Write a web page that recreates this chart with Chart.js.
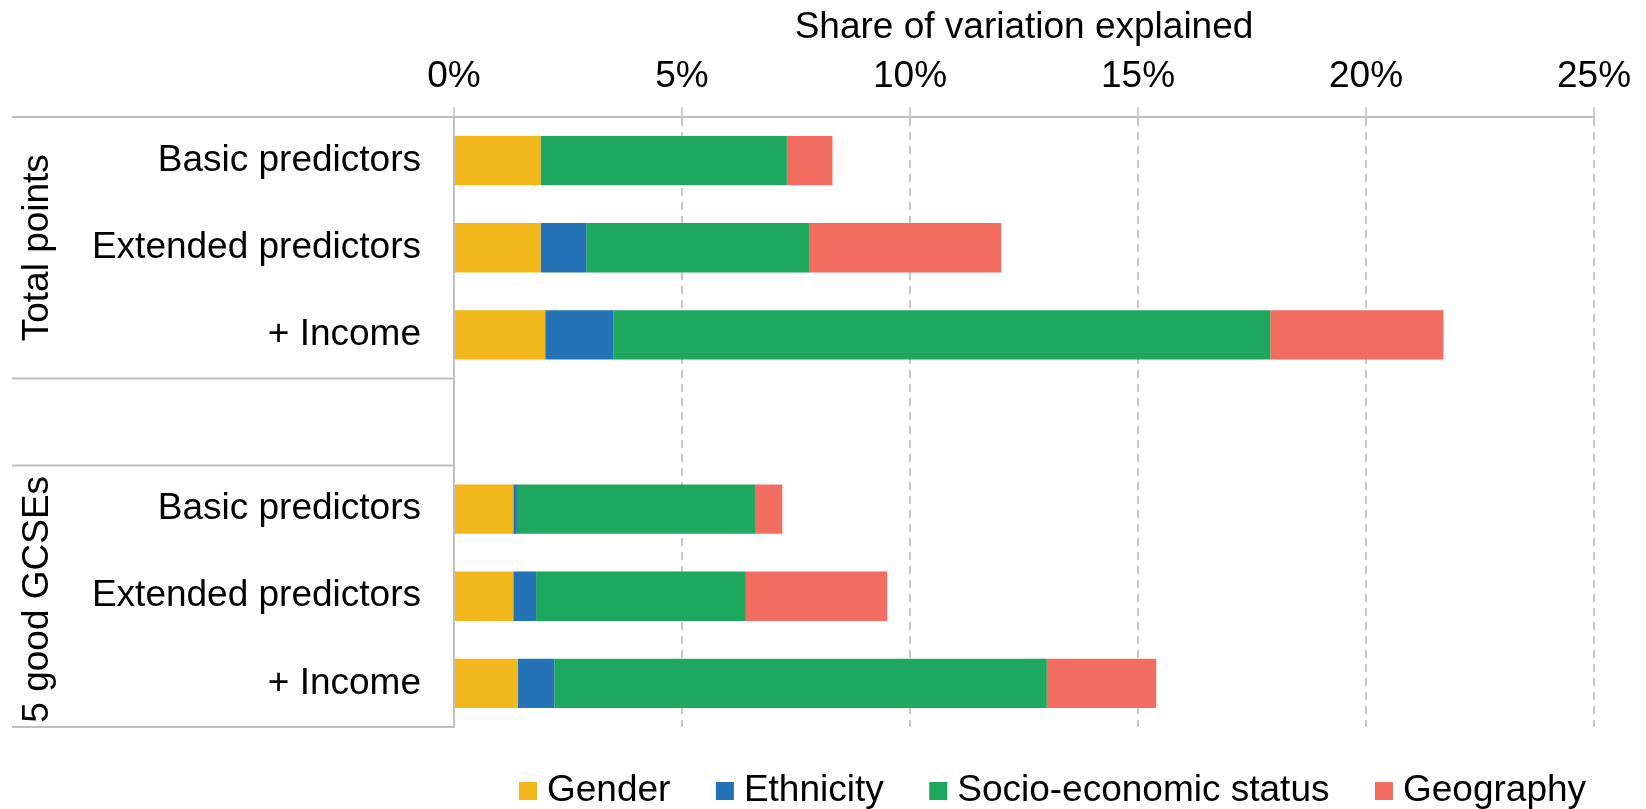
<!DOCTYPE html>
<html>
<head>
<meta charset="utf-8">
<title>Share of variation explained</title>
<script src="https://cdn.jsdelivr.net/npm/chart.js@4/dist/chart.umd.min.js"></script>
<style>
  html, body { margin: 0; padding: 0; background: #fff; }
  #wrap { width: 1646px; height: 809px; position: relative; }
</style>
</head>
<body>
<div id="wrap"><canvas id="chart"></canvas></div>
<script>
// row labels (blank row separates the two outcome groups)
var categories = [
  "Basic predictors", "Extended predictors", "+ Income", "",
  "Basic predictors", "Extended predictors", "+ Income"
];
var groups = ["Total points", "5 good GCSEs"];
var groupRows = [[0, 2], [4, 6]];

// share of variation explained, in %
var gender    = [1.9, 1.9, 2.0, null, 1.3, 1.3, 1.4];
var ethnicity = [0.0, 1.0, 1.5, null, 0.08, 0.5, 0.8];
var ses       = [5.4, 4.9, 14.4, null, 5.22, 4.6, 10.8];
var geography = [1.0, 4.2, 3.8, null, 0.6, 3.1, 2.4];

var seriesNames = ["Gender", "Ethnicity", "Socio-economic status", "Geography"];
var tickValues = [0, 5, 10, 15, 20, 25];

var colors = ["#F2B71B", "#2473B6", "#1EA85F", "#F26D60"];
var FONT = "'Liberation Sans', Arial, sans-serif";
var FSIZE = 37;
var LINE = "#BFBFBF";

// group labels, left separator lines and the legend
var extras = {
  id: "extras",
  afterDraw: function (chart) {
    var ctx = chart.ctx;
    var area = chart.chartArea;
    var y = chart.scales.y;
    var half = (y.getPixelForValue(1) - y.getPixelForValue(0)) / 2;

    ctx.save();
    ctx.strokeStyle = LINE;
    ctx.lineWidth = 2;
    var ys = [area.top, y.getPixelForValue(2) + half, y.getPixelForValue(4) - half, area.bottom];
    ys.forEach(function (py) {
      ctx.beginPath();
      ctx.moveTo(12, py);
      ctx.lineTo(area.left, py);
      ctx.stroke();
    });

    ctx.fillStyle = "#000";
    ctx.font = FSIZE + "px " + FONT;
    ctx.textAlign = "center";
    ctx.textBaseline = "middle";
    groups.forEach(function (g, i) {
      var a = y.getPixelForValue(groupRows[i][0]);
      var b = y.getPixelForValue(groupRows[i][1]);
      ctx.save();
      ctx.translate(38, (a + b) / 2 + (i == 1 ? 3 : 0));
      ctx.rotate(-Math.PI / 2);
      ctx.fillText(g, 0, 0);
      ctx.restore();
    });

    // legend row
    var x = 519;
    var ly = 791;
    var box = 18;
    ctx.textAlign = "left";
    chart.data.datasets.forEach(function (ds) {
      ctx.fillStyle = ds.backgroundColor;
      ctx.fillRect(x, ly - box / 2, box, box);
      x += box + 10;
      ctx.fillStyle = "#000";
      ctx.fillText(ds.label, x, ly);
      x += ctx.measureText(ds.label).width + 45.5;
    });
    ctx.restore();
  }
};

var data = {
  labels: categories,
  datasets: [
    { label: seriesNames[0], data: gender, backgroundColor: colors[0] },
    { label: seriesNames[1], data: ethnicity, backgroundColor: colors[1] },
    { label: seriesNames[2], data: ses, backgroundColor: colors[2] },
    { label: seriesNames[3], data: geography, backgroundColor: colors[3] }
  ]
};

var config = {
  type: "bar",
  data: data,
  plugins: [extras],
  options: {
    indexAxis: "y",
    responsive: true,
    maintainAspectRatio: false,
    animation: false,
    layout: { padding: { top: 7, right: 52, bottom: 82, left: 0 } },
    datasets: {
      bar: { categoryPercentage: 1, barPercentage: 0.566, borderWidth: 0 }
    },
    plugins: {
      legend: { display: false },
      tooltip: { enabled: false }
    },
    scales: {
      x: {
        position: "top",
        stacked: true,
        min: 0,
        max: 25,
        afterBuildTicks: function (scale) {
          scale.ticks = tickValues.map(function (v) { return { value: v }; });
        },
        afterFit: function (scale) { scale.height = 110; },
        title: {
          display: true,
          text: "Share of variation explained",
          color: "#000",
          font: { family: FONT, size: FSIZE, lineHeight: 1 },
          padding: { top: 2, bottom: 0 }
        },
        ticks: {
          color: "#000",
          font: { family: FONT, size: FSIZE },
          padding: 8,
          callback: function (v) { return v + "%"; }
        },
        grid: {
          color: function (c) { return c.index === 0 ? "rgba(0,0,0,0)" : "#C8C8C8"; },
          lineWidth: 2,
          tickLength: 10,
          tickColor: LINE,
          tickWidth: 1.5
        },
        border: { display: true, color: LINE, width: 2, dash: [8, 6] }
      },
      y: {
        stacked: true,
        afterFit: function (scale) { scale.width = 454; },
        ticks: {
          color: "#000",
          font: { family: FONT, size: FSIZE },
          padding: 25,
          autoSkip: false
        },
        grid: { display: false },
        border: { display: true, color: LINE, width: 2 }
      }
    }
  }
};

new Chart(document.getElementById("chart"), config);
</script>
</body>
</html>
